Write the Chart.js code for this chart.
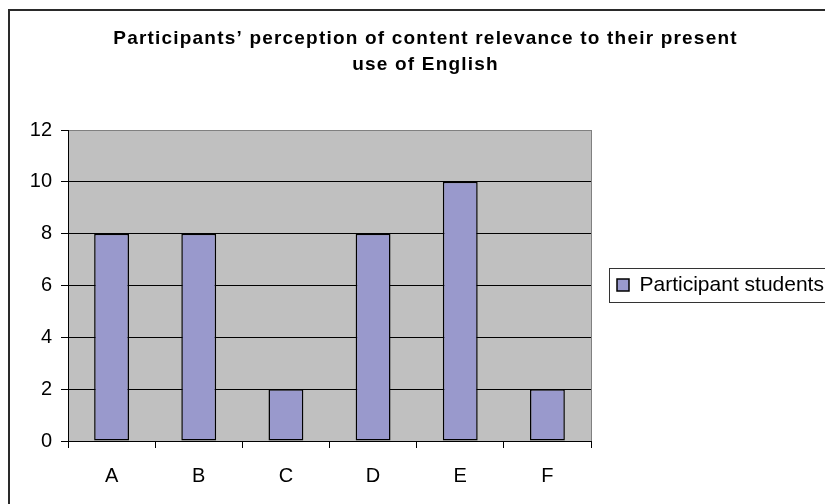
<!DOCTYPE html>
<html><head><meta charset="utf-8">
<script src="https://cdn.jsdelivr.net/npm/chart.js@4.4.0/dist/chart.umd.min.js"></script>
<style>
html,body{margin:0;padding:0;background:#fff;width:825px;height:504px;overflow:hidden;}
#frame{position:absolute;left:8px;top:9px;width:860px;height:540px;border:2px solid #2a2a2a;box-sizing:border-box;}
#wrap{position:absolute;left:0;top:0;width:825px;height:504px;}
</style></head><body>
<div id="frame"></div>
<div id="wrap"><canvas id="c" width="825" height="504"></canvas></div>
<script>
const titleLines = ['Participants’ perception of content relevance to their present', 'use of English'];
const categories = ['A', 'B', 'C', 'D', 'E', 'F'];
const seriesName = 'Participant students';
const seriesValues = [8, 8, 2, 8, 10, 2];
const yTicks = [0, 2, 4, 6, 8, 10, 12];

const FONT = "'Liberation Sans', Arial, sans-serif";

function legendShift(chart) {
  const lg = chart.legend;
  if (!lg || !lg.legendHitBoxes || !lg.legendHitBoxes.length) return 0;
  const hb = lg.legendHitBoxes[0];
  const a = chart.chartArea;
  return Math.round((a.top + a.bottom) / 2 - 1 - (hb.top + hb.height / 2));
}

const plotBg = {
  id: 'plotBg',
  beforeDraw(chart) {
    const {ctx, chartArea: a} = chart;
    ctx.save();
    ctx.fillStyle = '#c0c0c0';
    ctx.fillRect(a.left, a.top, a.right - a.left, a.bottom - a.top);
    ctx.restore();
  },
  afterDraw(chart) {
    const {ctx, chartArea: a} = chart;
    ctx.save();
    ctx.strokeStyle = '#808080';
    ctx.lineWidth = 1;
    ctx.beginPath();
    ctx.moveTo(a.right + 0.5, a.top);
    ctx.lineTo(a.right + 0.5, a.bottom);
    ctx.stroke();
    const lg = chart.legend;
    if (lg && lg.legendHitBoxes && lg.legendHitBoxes.length) {
      const hb = lg.legendHitBoxes[0];
      const cy = hb.top + hb.height / 2 + legendShift(chart);
      ctx.strokeStyle = '#333';
      ctx.strokeRect(Math.round(hb.left - 8) + 0.5, Math.round(cy - 17) + 0.5, 400, 34);
    }
    ctx.restore();
  }
};

const patchBlocks = {
  id: 'patchBlocks',
  afterInit(chart) {
    const tb = chart.titleBlock;
    if (tb) {
      const orig = tb.draw;
      tb.draw = function (...args) {
        const c = this.ctx;
        c.save();
        c.letterSpacing = '1.2px';
        c.translate(13, 0);
        orig.apply(this, args);
        c.restore();
      };
    }
    const lg = chart.legend;
    if (lg) {
      const origFit = lg.fit;
      lg.fit = function (...args) {
        origFit.apply(this, args);
        if (this.options.display) this.width = 234;
      };
      const origDraw = lg.draw;
      lg.draw = function (...args) {
        const c = this.ctx;
        const dy = legendShift(chart);
        c.save();
        c.translate(0, dy);
        origDraw.apply(this, args);
        c.restore();
      };
    }
  }
};

new Chart(document.getElementById('c'), {
  type: 'bar',
  data: {
    labels: categories,
    datasets: [{
      label: seriesName,
      data: seriesValues,
      backgroundColor: '#9999cc',
      borderColor: '#000',
      borderWidth: 1.5,
      borderSkipped: false,
      barPercentage: 0.4,
      categoryPercentage: 1.0
    }]
  },
  options: {
    responsive: false,
    animation: false,
    layout: {padding: {left: 0, right: 0, top: 0, bottom: 0}},
    plugins: {
      title: {
        display: true,
        text: titleLines,
        color: '#000',
        font: {family: FONT, size: 19, weight: 'bold', lineHeight: 26 / 19},
        padding: {top: 26, bottom: 52}
      },
      legend: {
        display: true,
        position: 'right',
        align: 'center',
        labels: {
          color: '#000',
          font: {family: FONT, size: 21},
          boxWidth: 12,
          boxHeight: 12,
          padding: 26
        }
      },
      tooltip: {enabled: false}
    },
    scales: {
      x: {
        grid: {display: true, offset: true, drawOnChartArea: false, tickLength: 7, color: '#000', lineWidth: 1},
        border: {display: true, color: '#000', width: 1},
        ticks: {color: '#000', font: {family: FONT, size: 20}, padding: 16, maxRotation: 0},
        afterFit(scale) { scale.height = 63; }
      },
      y: {
        min: Math.min(...yTicks),
        max: Math.max(...yTicks),
        ticks: {stepSize: 2, color: '#000', font: {family: FONT, size: 20}, padding: 9},
        grid: {
          color: (ctx) => (ctx.tick && ctx.tick.value === Math.max(...yTicks)) ? '#808080' : '#000',
          tickColor: '#000',
          lineWidth: 1,
          tickLength: 7
        },
        border: {display: true, color: '#000', width: 1},
        afterFit(scale) { scale.width = 68; }
      }
    }
  },
  plugins: [plotBg, patchBlocks]
});
</script>
</body></html>
